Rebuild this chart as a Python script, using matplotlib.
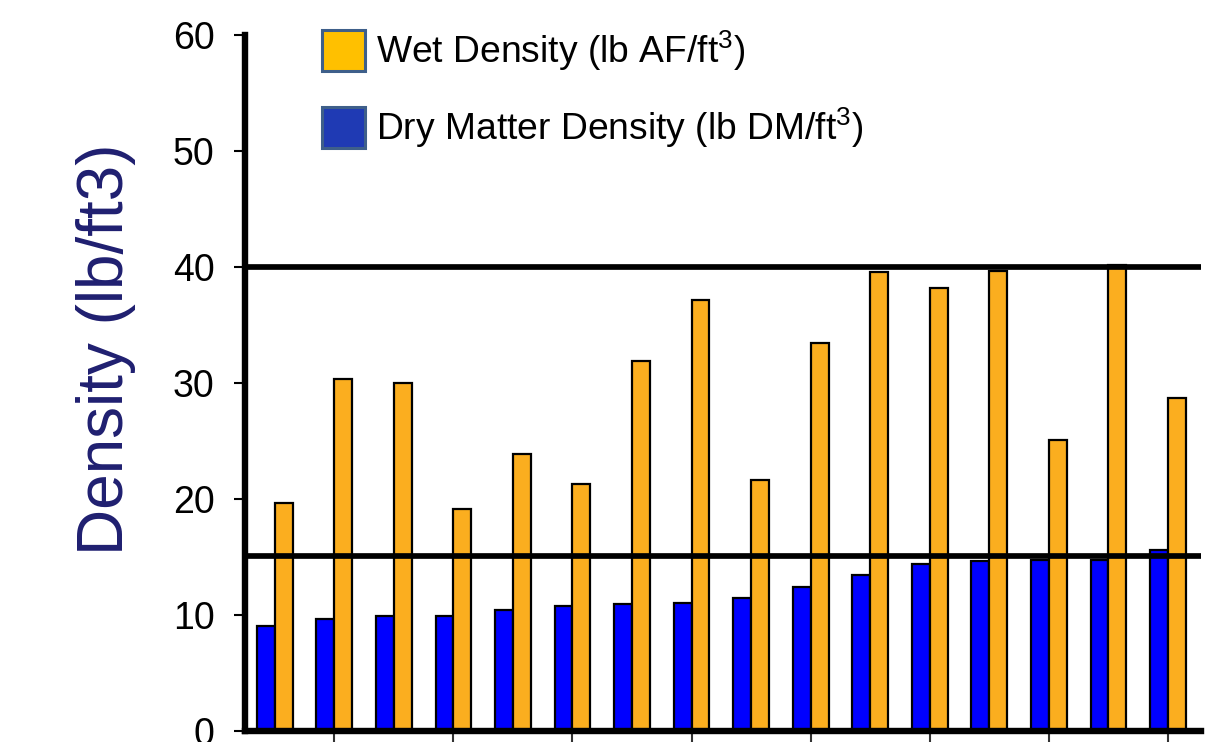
import matplotlib
matplotlib.use("Agg")
import matplotlib.pyplot as plt
from matplotlib.patches import Patch
import numpy as np

plt.rcParams['font.family'] = ['Liberation Sans', 'DejaVu Sans']
plt.rcParams['mathtext.fontset'] = 'custom'
plt.rcParams['mathtext.rm'] = 'Liberation Sans'
plt.rcParams['mathtext.default'] = 'regular'

# ---- data ----
samples = [1, 2, 3, 4, 5, 6, 7, 8, 9, 10, 11, 12, 13, 14, 15, 16]
dry_density = [9.1, 9.7, 9.9, 9.9, 10.5, 10.8, 11.0, 11.1, 11.5, 12.4, 13.5, 14.4, 14.7, 14.8, 14.8, 15.6]
wet_density = [19.7, 30.4, 30.0, 19.2, 23.9, 21.3, 31.9, 37.2, 21.7, 33.5, 39.6, 38.2, 39.7, 25.1, 40.2, 28.7]
reference_levels = [40, 15.1]
y_ticks = [0, 10, 20, 30, 40, 50, 60]
legend_labels = [r'Wet Density (lb AF/ft$^{3}$)', r'Dry Matter Density (lb DM/ft$^{3}$)']
y_label = 'Density (lb/ft3)'

W, H = 1226, 742
fig = plt.figure(figsize=(W / 100, H / 100), dpi=100)
ax = fig.add_axes([245 / W, 1 - 731.3 / H, (1201 - 245) / W, (731.3 - 35.3) / H])

x = np.arange(len(samples))
bw = 0.30
ax.bar(x - bw / 2, dry_density, width=bw, color='#0000FF', edgecolor='black', linewidth=1.6, zorder=2)
ax.bar(x + bw / 2, wet_density, width=bw, color='#FBAE1F', edgecolor='black', linewidth=1.6, zorder=2)

for lvl in reference_levels:
    ax.axhline(lvl, color='black', linewidth=4.1, zorder=3)

ax.set_xlim(-0.50, 15.555)
ax.set_ylim(0, 60)
ax.set_yticks(y_ticks)
ax.set_xticks(x[1::2])
ax.set_xticklabels([])

for s in ['top', 'right']:
    ax.spines[s].set_visible(False)
for s in ['left', 'bottom']:
    ax.spines[s].set_linewidth(4.6)
    ax.spines[s].set_color('black')
    ax.spines[s].set_zorder(4)

ax.tick_params(axis='y', direction='out', length=8, width=1.5, pad=14.0, labelsize=27, colors='black')
ax.tick_params(axis='x', direction='out', length=10, width=1.5, colors='#333333')

fig.text(106 / W, 1 - 349 / H, y_label, rotation=90, ha='center', va='center',
         fontsize=46, color='#1F1F70')

handles = [Patch(facecolor='#FFC000', edgecolor='#3E5F8A', linewidth=2.2),
           Patch(facecolor='#1F3AB4', edgecolor='#3E5F8A', linewidth=2.2)]
fig.legend(handles, legend_labels, loc='upper left', bbox_to_anchor=(321.7 / W, 1 - 28.5 / H),
           frameon=False, fontsize=26.8, handlelength=1.16, handleheight=1.32,
           handletextpad=0.3, labelspacing=0.9, borderpad=0, borderaxespad=0)

fig.savefig('out.png', dpi=100, facecolor='white')
